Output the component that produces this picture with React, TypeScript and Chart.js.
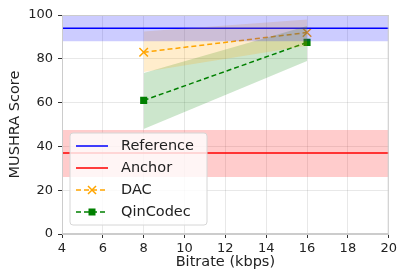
import React, { useEffect, useRef } from "react";
import { Chart, registerables } from "chart.js";

Chart.register(...registerables);

// ---- data ----
const xRange = [4, 20];
const bitrates = [8, 16];
const refScore = [94, 94];
const refUpper = [100, 100];
const refLower = [88, 88];
const anchorScore = [37, 37];
const anchorUpper = [47.5, 47.5];
const anchorLower = [26, 26];
const dacScores = [83, 92];
const dacUpper = [92.5, 98];
const dacLower = [74, 86];
const qinScores = [61, 87.5];
const qinUpper = [73.5, 95];
const qinLower = [48, 79];
const xTicks = [4, 6, 8, 10, 12, 14, 16, 18, 20];
const yTicks = [0, 20, 40, 60, 80, 100];
const legendLabels = ["Reference", "Anchor", "DAC", "QinCodec"];

const FONT = "'DejaVu Sans', sans-serif";

const pts = (xs: number[], ys: number[]) => xs.map((x, i) => ({ x, y: ys[i] }));

const legendPlugin = {
  id: "customLegend",
  afterDraw(chart: any) {
    const ctx = chart.ctx;
    const x0 = 70, y0 = 133, w = 137, h = 92;
    ctx.save();
    ctx.beginPath();
    const r = 3;
    ctx.moveTo(x0 + r, y0);
    ctx.arcTo(x0 + w, y0, x0 + w, y0 + h, r);
    ctx.arcTo(x0 + w, y0 + h, x0, y0 + h, r);
    ctx.arcTo(x0, y0 + h, x0, y0, r);
    ctx.arcTo(x0, y0, x0 + w, y0, r);
    ctx.closePath();
    ctx.fillStyle = "rgba(255,255,255,0.8)";
    ctx.fill();
    ctx.strokeStyle = "#d6d6d6";
    ctx.lineWidth = 1;
    ctx.stroke();

    const items = [
      { color: "#0000ff", dash: [], marker: null },
      { color: "#ff0000", dash: [], marker: null },
      { color: "#ffa500", dash: [5, 3], marker: "x" },
      { color: "#008000", dash: [5, 3], marker: "rect" },
    ];
    const rows = [146, 168, 190, 212];
    items.forEach((it, i) => {
      const y = rows[i];
      ctx.beginPath();
      ctx.setLineDash(it.dash);
      ctx.strokeStyle = it.color;
      ctx.lineWidth = 1.5;
      ctx.moveTo(76, y);
      ctx.lineTo(108, y);
      ctx.stroke();
      ctx.setLineDash([]);
      const cx = 92;
      if (it.marker === "x") {
        ctx.beginPath();
        ctx.moveTo(cx - 4, y - 4);
        ctx.lineTo(cx + 4, y + 4);
        ctx.moveTo(cx - 4, y + 4);
        ctx.lineTo(cx + 4, y - 4);
        ctx.stroke();
      } else if (it.marker === "rect") {
        ctx.fillStyle = it.color;
        ctx.fillRect(cx - 3.5, y - 3.5, 7, 7);
      }
      ctx.fillStyle = "#222";
      ctx.font = `14.5px ${FONT}`;
      ctx.textBaseline = "middle";
      ctx.textAlign = "left";
      ctx.fillText(legendLabels[i], 121, y + 0.5);
    });
    ctx.restore();
  },
};

const framePlugin = {
  id: "frame",
  afterDatasetsDraw(chart: any) {
    const { ctx, chartArea: a } = chart;
    ctx.save();
    ctx.strokeStyle = "#cccccc";
    ctx.lineWidth = 1;
    ctx.strokeRect(a.left + 0.5, a.top + 0.5, a.right - a.left - 1, a.bottom - a.top - 1);
    ctx.restore();
  },
};

export default function App() {
  const ref = useRef<HTMLCanvasElement>(null);
  useEffect(() => {
    document.body.style.margin = "0";
    const band = (data: number[], xs: number[], color: string, fill: any) => ({
      data: pts(xs, data),
      borderWidth: 0,
      pointRadius: 0,
      backgroundColor: color,
      borderColor: "rgba(0,0,0,0)",
      fill,
    });
    const chart = new Chart(ref.current!, {
      type: "line",
      data: {
        datasets: [
          band(refUpper, xRange, "rgba(0,0,255,0.2)", "+1"),
          band(refLower, xRange, "rgba(0,0,0,0)", false),
          band(anchorUpper, xRange, "rgba(255,0,0,0.2)", "+1"),
          band(anchorLower, xRange, "rgba(0,0,0,0)", false),
          band(dacUpper, bitrates, "rgba(255,165,0,0.2)", "+1"),
          band(dacLower, bitrates, "rgba(0,0,0,0)", false),
          band(qinUpper, bitrates, "rgba(0,128,0,0.2)", "+1"),
          band(qinLower, bitrates, "rgba(0,0,0,0)", false),
          {
            data: pts(xRange, refScore),
            borderColor: "#0000ff",
            borderWidth: 1.5,
            pointRadius: 0,
            fill: false,
          },
          {
            data: pts(xRange, anchorScore),
            borderColor: "#ff0000",
            borderWidth: 1.5,
            pointRadius: 0,
            fill: false,
          },
          {
            data: pts(bitrates, dacScores),
            borderColor: "#ffa500",
            backgroundColor: "#ffa500",
            borderWidth: 1.5,
            borderDash: [5, 3],
            pointStyle: "crossRot",
            pointRadius: 6,
            pointBorderWidth: 1.5,
            fill: false,
          },
          {
            data: pts(bitrates, qinScores),
            borderColor: "#008000",
            backgroundColor: "#008000",
            borderWidth: 1.5,
            borderDash: [5, 3],
            pointStyle: "rect",
            pointRadius: 5,
            pointBorderWidth: 0,
            fill: false,
          },
        ] as any,
      },
      options: {
        animation: false,
        responsive: false,
        layout: { padding: { top: 15, right: 9, left: 0, bottom: 0 } },
        plugins: {
          legend: { display: false },
          tooltip: { enabled: false },
        },
        scales: {
          x: {
            type: "linear",
            min: 4,
            max: 20,
            afterBuildTicks: (s: any) => {
              s.ticks = xTicks.map((v) => ({ value: v }));
            },
            afterFit: (s: any) => {
              s.height = 37;
            },
            grid: {
              color: "rgba(0,0,0,0.09)",
              tickColor: "#333",
              tickLength: 4,
            },
            border: { color: "#cccccc" },
            ticks: {
              font: { family: FONT, size: 13 },
              color: "#222",
              padding: 3,
              maxRotation: 0,
            },
            title: {
              display: true,
              text: "Bitrate (kbps)",
              font: { family: FONT, size: 14.5 },
              color: "#222",
              padding: { top: 0, bottom: 0 },
            },
          },
          y: {
            type: "linear",
            min: 0,
            max: 100,
            afterBuildTicks: (s: any) => {
              s.ticks = yTicks.map((v) => ({ value: v }));
            },
            afterFit: (s: any) => {
              s.width = 62;
            },
            grid: {
              color: "rgba(0,0,0,0.09)",
              tickColor: "#333",
              tickLength: 4,
            },
            border: { color: "#cccccc" },
            ticks: {
              font: { family: FONT, size: 13 },
              color: "#222",
              padding: 5,
            },
            title: {
              display: true,
              text: "MUSHRA Score",
              font: { family: FONT, size: 14.5 },
              color: "#222",
              padding: { top: 7, bottom: 0 },
            },
          },
        },
      } as any,
      plugins: [framePlugin, legendPlugin],
    });
    return () => chart.destroy();
  }, []);
  return (
    <div style={{ position: "absolute", left: 0, top: 0, width: 400, height: 271 }}>
      <canvas ref={ref} width={400} height={271} style={{ width: 400, height: 271 }} />
    </div>
  );
}
